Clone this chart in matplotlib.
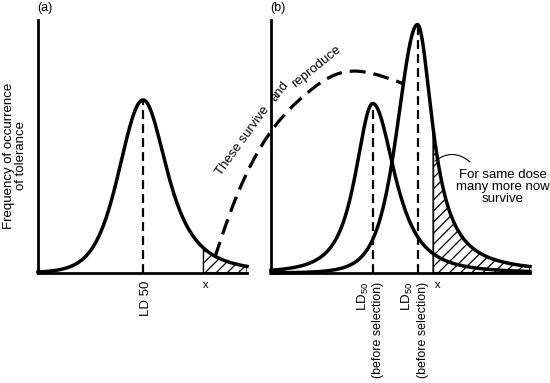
import numpy as np
import matplotlib.pyplot as plt
from matplotlib.path import Path
from matplotlib.patches import PathPatch, FancyArrowPatch

plt.rcParams['font.family'] = ['Liberation Sans', 'DejaVu Sans']
plt.rcParams['mathtext.fontset'] = 'custom'
plt.rcParams['mathtext.rm'] = 'Liberation Sans'
plt.rcParams['mathtext.it'] = 'Liberation Sans:italic'
plt.rcParams['hatch.linewidth'] = 0.9

# tolerance curves: (a) original population, (b) before / after selection
peak_dose = [5.03, 4.87, 7.01]
peak_freq = [0.684, 0.67, 0.982]
width_left = [3.08, 1.27, 2.2]
power_left = [4.0, 1.5, 3.0]
width_right = [1.78, 1.6, 0.88]
power_right = [1.5, 1.5, 1.0]

dose_max = [10.0, 12.39]      # x extent of panels a and b
cutoff_dose = [7.9, 7.75]     # dose x

# dashed "these survive and reproduce" arc, bezier nodes in panel b units
arc_x = [-2.679, -1.818, -0.813, 1.244, 3.187, 3.909, 6.364]
arc_y = [0.063, 0.281, 0.522, 0.676, 0.823, 0.825, 0.747]

# leader line for the note, panel b units
note_x = [7.85, 9.52]
note_y = [0.443, 0.439]


def bell(x, i):
    d = x - peak_dose[i]
    w = np.where(d < 0, width_left[i], width_right[i])
    p = np.where(d < 0, power_left[i], power_right[i])
    return peak_freq[i] * (1 + (d / w) ** 2) ** (-p)


fig = plt.figure(figsize=(5.5, 3.83), dpi=100)
ax_a = fig.add_axes([38 / 550, 110 / 383, 209 / 550, 253 / 383])
ax_b = fig.add_axes([271 / 550, 110 / 383, 259 / 550, 253 / 383])

for ax, xmax in zip([ax_a, ax_b], dose_max):
    ax.set_xlim(0, xmax)
    ax.set_ylim(0, 1)
    ax.set_xticks([])
    ax.set_yticks([])
    ax.spines['top'].set_visible(False)
    ax.spines['right'].set_visible(False)
    ax.spines['left'].set_linewidth(2.0)
    ax.spines['bottom'].set_linewidth(2.0)
    ax.patch.set_visible(False)

ld_dash = (0, (4, 2.3))

# panel a
xa = np.linspace(0, dose_max[0], 500)
ya = bell(xa, 0)
sel = xa >= cutoff_dose[0]
ax_a.fill_between(xa[sel], 0, ya[sel], facecolor='none', edgecolor='black',
                  hatch='///', linewidth=1.0)
ax_a.plot(xa, ya, color='black', lw=2.5, clip_on=False)
ax_a.plot([peak_dose[0], peak_dose[0]], [0, peak_freq[0]], color='black',
          lw=1.6, linestyle=ld_dash)

# panel b
xb = np.linspace(0, dose_max[1], 700)
y_before = bell(xb, 1)
y_after = bell(xb, 2)
sel = xb >= cutoff_dose[1]
ax_b.fill_between(xb[sel], 0, y_after[sel], facecolor='none', edgecolor='black',
                  hatch='///', linewidth=1.3)
ax_b.plot(xb, y_before, color='black', lw=2.5, clip_on=False)
ax_b.plot(xb, y_after, color='black', lw=2.5, clip_on=False)
for i in [1, 2]:
    ax_b.plot([peak_dose[i], peak_dose[i]], [0, peak_freq[i]], color='black',
              lw=1.6, linestyle=ld_dash)

codes = [Path.MOVETO] + [Path.CURVE4] * 6
arc = PathPatch(Path(np.column_stack([arc_x, arc_y]), codes), fill=False,
                lw=2.3, linestyle=(0, (5.0, 2.5)), edgecolor='black',
                transform=ax_b.transData, clip_on=False)
ax_b.add_patch(arc)

ax_b.add_patch(FancyArrowPatch((note_x[0], note_y[0]), (note_x[1], note_y[1]),
                               arrowstyle='-', connectionstyle='arc3,rad=-0.4',
                               lw=0.8, color='black', shrinkA=0, shrinkB=0))

# text
fs = 9.5
fig.text(15 / 550, 1 - 156 / 383, 'Frequency of occurrence\nof tolerance',
         rotation=90, ha='center', va='center', multialignment='center',
         fontsize=fs, linespacing=1.05)
ax_a.annotate('(a)', xy=(0, 1), xycoords='axes fraction', xytext=(4.7, 8.4),
              textcoords='offset points', ha='center', va='center', fontsize=9)
ax_b.annotate('(b)', xy=(0, 1), xycoords='axes fraction', xytext=(5.3, 9.0),
              textcoords='offset points', ha='center', va='center', fontsize=9)

ax_a.annotate('LD 50', xy=(peak_dose[0], 0), xytext=(2, -5.8),
              textcoords='offset points', rotation=90, ha='center', va='top',
              fontsize=fs)
ax_a.annotate('x', xy=(cutoff_dose[0], 0), xytext=(2, -8.6),
              textcoords='offset points', ha='center', va='center', fontsize=8)
for i in [1, 2]:
    ax_b.annotate('LD$_{50}$', xy=(peak_dose[i], 0), xytext=(-7.0, -6.5),
                  textcoords='offset points', rotation=90, ha='center',
                  va='top', fontsize=fs)
    ax_b.annotate('(before selection)', xy=(peak_dose[i], 0), xytext=(4.0, -6.5),
                  textcoords='offset points', rotation=90, ha='center',
                  va='top', fontsize=8.9)
ax_b.annotate('x', xy=(cutoff_dose[1], 0), xytext=(3.6, -8.6),
              textcoords='offset points', ha='center', va='center', fontsize=8)

ax_b.text(11.08, 0.34, 'For same dose\nmany more now\nsurvive', ha='center',
          va='center', fontsize=fs, linespacing=1.0, clip_on=False)

ax_b.text(-1.364, 0.522, 'These survive', rotation=54, rotation_mode='anchor',
          ha='center', va='center', fontsize=fs)
ax_b.text(0.431, 0.717, 'and', rotation=52, rotation_mode='anchor',
          ha='center', va='center', fontsize=fs)
ax_b.text(2.177, 0.814, 'reproduce', rotation=39, rotation_mode='anchor',
          ha='center', va='center', fontsize=fs)

fig.savefig('out.png', dpi=100)
